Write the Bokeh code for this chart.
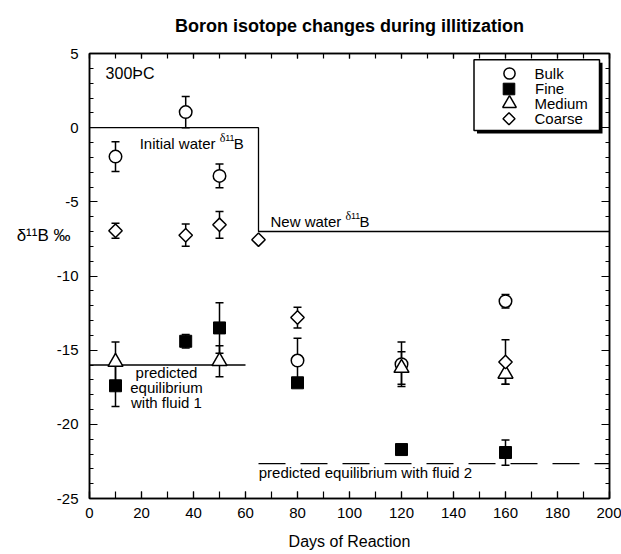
from bokeh.plotting import figure
from bokeh.models import (ColumnDataSource, Whisker, TeeHead, Label, Legend, LegendItem,
                          LinearAxis, SingleIntervalTicker, FixedTicker, BoxAnnotation,
                          PolyAnnotation, Range1d)
from bokeh.embed import file_html
from bokeh.resources import INLINE
import math

# ---------------- data ----------------
bulk_days = [10, 37, 50, 80, 120, 160]
bulk_d11b = [-1.95, 1.05, -3.25, -15.7, -15.95, -11.7]
bulk_err = [1.0, 1.05, 0.8, 1.5, 1.5, 0.45]

fine_days = [10, 37, 50, 80, 120, 160]
fine_d11b = [-17.4, -14.4, -13.5, -17.2, -21.7, -21.9]
fine_err = [1.4, 0.45, 1.7, 0.3, 0.3, 0.85]

medium_days = [10, 50, 120, 160]
medium_d11b = [-15.8, -15.75, -16.2, -16.6]
medium_err = [1.35, 1.05, 1.1, 0.7]

coarse_days = [10, 37, 50, 65, 80, 160]
coarse_d11b = [-6.95, -7.25, -6.55, -7.55, -12.8, -15.8]
coarse_err = [0.5, 0.75, 0.9, 0.0, 0.7, 1.5]

water_days = [0, 65, 65, 200]
water_d11b = [0, 0, -7, -7]
fluid1_days = [0, 60]
fluid1_d11b = [-16, -16]
fluid2_days = [65, 200]
fluid2_d11b = [-22.65, -22.65]

x_ticks = [0, 20, 40, 60, 80, 100, 120, 140, 160, 180, 200]
x_tick_labels = ["0", "20", "40", "60", "80", "100", "120", "140", "160", "180", "200"]
y_ticks = [-25, -20, -15, -10, -5, 0, 5]
y_tick_labels = ["-25", "-20", "-15", "-10", "-5", "0", "5"]
y_title = "\u03b4\u00b9\u00b9B \u2030"
y_title_at = -7.3
chart_title = "Boron isotope changes during illitization"

FONT = "Liberation Sans"
SERIF = "Liberation Serif"

p = figure(width=621, height=554, x_range=Range1d(0, 200), y_range=Range1d(-25, 5),
           min_border_left=89, min_border_right=12, min_border_top=53, min_border_bottom=56,
           output_backend="svg", toolbar_location=None)
p.title = None
p.grid.visible = False
p.outline_line_color = "black"
p.outline_line_width = 1.5
p.background_fill_color = "white"

xt = SingleIntervalTicker(interval=20, num_minor_ticks=2)
yt = SingleIntervalTicker(interval=5, num_minor_ticks=5)

xa = p.xaxis[0]
xa.ticker = xt
xa.major_label_overrides = {t: s for t, s in zip(x_ticks, x_tick_labels)}
xa.major_tick_in = 7
xa.major_tick_out = 0
xa.minor_tick_in = 7
xa.minor_tick_out = 0
xa.axis_line_width = 1.5
xa.major_tick_line_width = 1.2
xa.minor_tick_line_width = 1.2
xa.major_label_text_font = FONT
xa.major_label_text_font_size = "15px"
xa.major_label_text_color = "black"
xa.major_label_standoff = 9
xa.axis_label = "Days of Reaction"
xa.axis_label_text_font = FONT
xa.axis_label_text_font_size = "16px"
xa.axis_label_text_font_style = "normal"
xa.axis_label_text_color = "black"
xa.axis_label_standoff = 12

ya = p.yaxis[0]
ya.ticker = yt
ya.major_label_overrides = {t: s for t, s in zip(y_ticks, y_tick_labels)}
ya.major_tick_in = 8
ya.major_tick_out = 0
ya.minor_tick_in = 4
ya.minor_tick_out = 0
ya.axis_line_width = 1.5
ya.major_tick_line_width = 1.2
ya.minor_tick_line_width = 1.2
ya.major_label_text_font = FONT
ya.major_label_text_font_size = "15px"
ya.major_label_text_color = "black"
ya.major_label_standoff = 11

# y title drawn as a horizontal label of an extra, line-less left axis
yl = LinearAxis(ticker=FixedTicker(ticks=[y_title_at], minor_ticks=[]),
                major_label_overrides={y_title_at: y_title},
                major_tick_in=0, major_tick_out=0, minor_tick_in=0, minor_tick_out=0,
                axis_line_alpha=0, major_tick_line_alpha=0, minor_tick_line_alpha=0,
                major_label_text_font=FONT, major_label_text_font_size="17px",
                major_label_text_color="black", major_label_standoff=-17)
p.add_layout(yl, "left")

# top axis (ticks only) carrying the chart title as its axis label
top = LinearAxis(ticker=SingleIntervalTicker(interval=20, num_minor_ticks=2),
                 major_label_text_font_size="0px", major_label_standoff=0,
                 major_tick_in=5, major_tick_out=0, minor_tick_in=5, minor_tick_out=0,
                 axis_line_width=1.5, major_tick_line_width=1.2, minor_tick_line_width=1.2,
                 axis_label=chart_title, axis_label_text_font=FONT,
                 axis_label_text_font_size="18px", axis_label_text_font_style="bold",
                 axis_label_text_color="black", axis_label_standoff=18)
p.add_layout(top, "above")
right = LinearAxis(ticker=SingleIntervalTicker(interval=5, num_minor_ticks=5),
                   major_label_text_font_size="0px", major_label_standoff=0,
                   major_tick_in=8, major_tick_out=0, minor_tick_in=4, minor_tick_out=0,
                   axis_line_width=1.5, major_tick_line_width=1.2, minor_tick_line_width=1.2)
p.add_layout(right, "right")

# reference lines
p.line(water_days, water_d11b, line_color="black", line_width=1.3)
p.line(fluid1_days, fluid1_d11b, line_color="black", line_width=1.3)
p.line(fluid2_days, fluid2_d11b, line_color="black", line_width=1.3, line_dash="27 15")

# error bars
def add_err(days, vals, errs):
    src = ColumnDataSource(dict(x=days, upper=[v + e for v, e in zip(vals, errs)],
                                lower=[v - e for v, e in zip(vals, errs)]))
    w = Whisker(base="x", upper="upper", lower="lower", source=src, dimension="height",
                line_color="black", line_width=1.5,
                upper_head=TeeHead(size=8, line_width=1.5, line_color="black"),
                lower_head=TeeHead(size=8, line_width=1.5, line_color="black"))
    p.add_layout(w)

for d, v, e in [(bulk_days, bulk_d11b, bulk_err), (fine_days, fine_d11b, fine_err),
                (medium_days, medium_d11b, medium_err), (coarse_days, coarse_d11b, coarse_err)]:
    add_err(d, v, e)

r_bulk = p.scatter(bulk_days, bulk_d11b, marker="circle", size=12.5, fill_color="white",
                   line_color="black", line_width=1.5)
r_fine = p.scatter(fine_days, fine_d11b, marker="square", size=12, fill_color="black",
                   line_color="black", line_width=1)
r_med = p.scatter(medium_days, medium_d11b, marker="triangle", size=15, fill_color="white",
                  line_color="black", line_width=1.5)
r_coarse = p.scatter(coarse_days, coarse_d11b, marker="square", size=9.5, angle=math.pi / 4,
                     fill_color="white", line_color="black", line_width=1.5)
r_coarse_key = p.scatter([], [], marker="square", size=1, fill_alpha=0, line_alpha=0)

# legend box with drop shadow (frame-relative screen units)
SU = dict(left_units="screen", right_units="screen", bottom_units="screen", top_units="screen")
p.add_layout(BoxAnnotation(left=387.5, right=513, bottom=365, top=435.7,
                           fill_color="black", fill_alpha=1, line_alpha=0, **SU))
p.add_layout(BoxAnnotation(left=384.5, right=510, bottom=368, top=438.7,
                           fill_color="white", fill_alpha=1, line_color="black",
                           line_width=1.5, line_alpha=1, **SU))

def key(label, renderer, cy, box):
    leg = Legend(items=[LegendItem(label=label, renderers=[renderer])],
                 location=(419.5 - box / 2, cy - box / 2), orientation="vertical",
                 glyph_width=box, glyph_height=box, label_height=box,
                 label_standoff=int(round(445.5 - (419.5 - box / 2) - box)),
                 padding=0, margin=0, spacing=0,
                 border_line_alpha=0, background_fill_alpha=0,
                 label_text_font=FONT, label_text_font_size="15px", label_text_color="black")
    p.add_layout(leg)

key("Bulk", r_bulk, 424.7, 28)
key("Fine", r_fine, 409.7, 29)
key("Medium", r_med, 394.7, 34)
key("Coarse", r_coarse_key, 379.7, 28)
p.add_layout(PolyAnnotation(xs=[413.5, 419.5, 425.5, 419.5], ys=[379.7, 385.7, 379.7, 373.7],
                            xs_units="screen", ys_units="screen",
                            fill_color="white", fill_alpha=1, line_color="black",
                            line_alpha=1, line_width=1.5))

# text annotations
def lab(x, y, text, size="15px", font=FONT, xo=0, yo=0, align="left", baseline="alphabetic"):
    p.add_layout(Label(x=x, y=y, text=text, x_offset=xo, y_offset=yo,
                       text_font=font, text_font_size=size, text_color="black",
                       text_align=align, text_baseline=baseline))

lab(6.2, 3.65, "300\u00deC", size="16px", baseline="middle")
lab(19.3, -1.07, "Initial water")
lab(19.3, -1.07, "\u03b4", size="12px", font=SERIF, xo=80, yo=6)
lab(19.3, -1.07, "11", size="9px", xo=85.5, yo=6)
lab(19.3, -1.07, "B", xo=94)
lab(69.6, -6.33, "New water")
lab(69.6, -6.33, "\u03b4", size="12px", font=SERIF, xo=75, yo=6)
lab(69.6, -6.33, "11", size="9px", xo=80.5, yo=6)
lab(69.6, -6.33, "B", xo=89)
lab(29.6, -16.49, "predicted", align="center", baseline="middle")
lab(29.6, -17.5, "equilibrium", align="center", baseline="middle")
lab(29.6, -18.55, "with fluid 1", align="center", baseline="middle")
lab(65.1, -23.23, "predicted equilibrium with fluid 2", baseline="middle")

open("out.html", "w").write(file_html(p, INLINE))
